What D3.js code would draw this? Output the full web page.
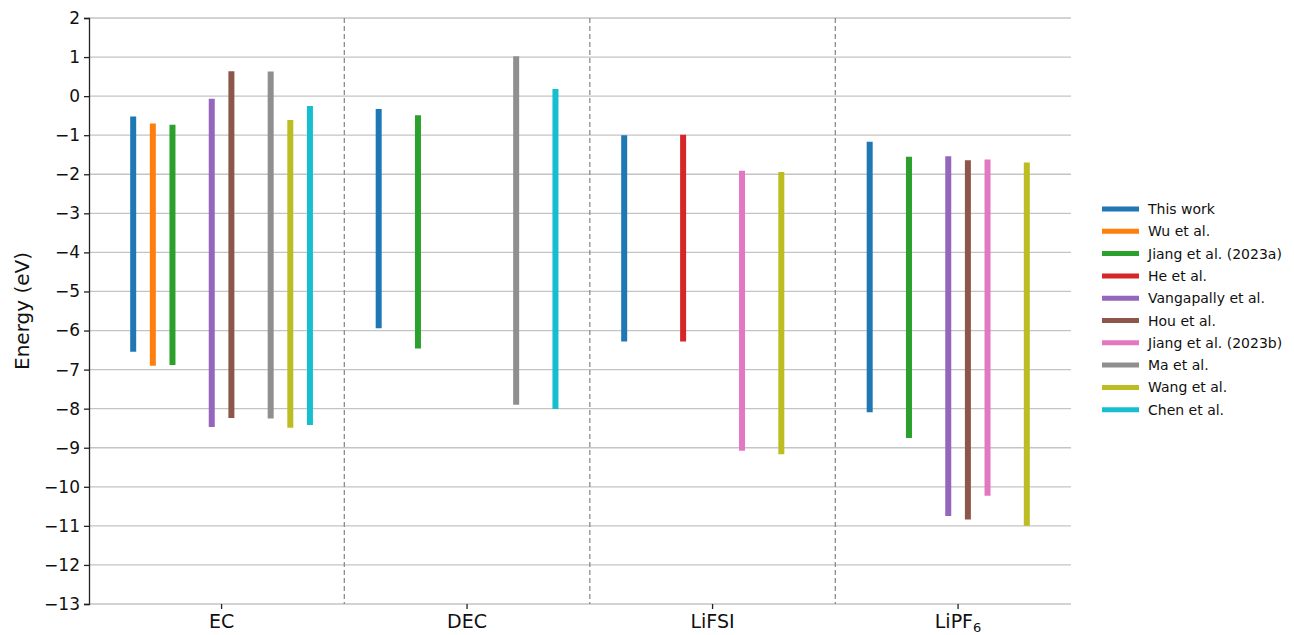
<!DOCTYPE html>
<html><head><meta charset="utf-8">
<script src="https://cdn.jsdelivr.net/npm/d3@7"></script>
<style>body{margin:0;background:#fff;} svg{display:block;font-family:"DejaVu Sans",sans-serif;}</style>
</head><body><svg id="c" width="1294" height="635"></svg>
<script>
const categories = ["EC", "DEC", "LiFSI", "LiPF6"];
const seriesNames = ["This work", "Wu et al.", "Jiang et al. (2023a)", "He et al.", "Vangapally et al.",
  "Hou et al.", "Jiang et al. (2023b)", "Ma et al.", "Wang et al.", "Chen et al."];
const colors = ["#1f77b4", "#ff7f0e", "#2ca02c", "#d62728", "#9467bd", "#8c564b", "#e377c2", "#8f8f8f", "#bcbd22", "#17becf"];
// per-series [EC, DEC, LiFSI, LiPF6] ; null = no data
const highs = [
  [-0.52, -0.33, -1.00, -1.17],
  [-0.70, null, null, null],
  [-0.73, -0.49, null, -1.55],
  [null, null, -0.99, null],
  [-0.07, null, null, -1.54],
  [0.64, null, null, -1.64],
  [null, null, -1.91, -1.62],
  [0.63, 1.02, null, null],
  [-0.61, null, -1.94, -1.70],
  [-0.25, 0.18, null, null]
];
const lows = [
  [-6.54, -5.94, -6.28, -8.09],
  [-6.90, null, null, null],
  [-6.88, -6.46, null, -8.75],
  [null, null, -6.28, null],
  [-8.47, null, null, -10.75],
  [-8.24, null, null, -10.84],
  [null, null, -9.08, -10.23],
  [-8.25, -7.90, null, null],
  [-8.49, null, -9.17, -11.00],
  [-8.42, -8.01, null, null]
];
const yTicks = d3.range(-13, 3, 1);

(function () {
const svg = d3.select("#c");
const pl = 89, pr = 1071, pt = 18, pb = 604;
const x = d3.scaleLinear().domain([-0.54, 3.46]).range([pl, pr]);
const y = d3.scaleLinear().domain([-13, 2]).range([pb, pt]);
const step = 0.08;

// grid
svg.append("g").selectAll("line").data(yTicks).join("line")
  .attr("x1", pl).attr("x2", pr)
  .attr("y1", d => y(d)).attr("y2", d => y(d))
  .attr("stroke", "#c4c4c4").attr("stroke-width", 1.3);

// dividers
svg.append("g").selectAll("line").data([0.5, 1.5, 2.5]).join("line")
  .attr("x1", d => x(d)).attr("x2", d => x(d))
  .attr("y1", pt).attr("y2", pb)
  .attr("stroke", "#8c8c8c").attr("stroke-width", 1.3).attr("stroke-dasharray", "5,3");

// bars
const segs = [];
seriesNames.forEach((s, i) => {
  categories.forEach((c, j) => {
    if (highs[i][j] != null) segs.push({i, j, hi: highs[i][j], lo: lows[i][j]});
  });
});
svg.append("g").selectAll("line").data(segs).join("line")
  .attr("x1", d => x(d.j + (d.i - 4.5) * step)).attr("x2", d => x(d.j + (d.i - 4.5) * step))
  .attr("y1", d => y(d.hi)).attr("y2", d => y(d.lo))
  .attr("stroke", d => colors[d.i]).attr("stroke-width", 6);

// y axis
const ya = svg.append("g").attr("transform", `translate(${pl},0)`)
  .call(d3.axisLeft(y).tickValues(yTicks).tickFormat(d3.format("d")).tickSize(5).tickPadding(4));
ya.select(".domain").attr("stroke", "#222").attr("stroke-width", 1.3);
ya.selectAll(".tick line").attr("stroke", "#222").attr("stroke-width", 1.3);
ya.selectAll("text").attr("font-size", 17).attr("fill", "#111").attr("font-family", "DejaVu Sans");

// x axis ticks
const xa = svg.append("g").attr("transform", `translate(0,${pb})`);
categories.forEach((c, j) => {
  xa.append("line").attr("x1", x(j)).attr("x2", x(j)).attr("y1", 0).attr("y2", 5).attr("stroke", "#222").attr("stroke-width", 1.3);
  const t = xa.append("text").attr("x", x(j)).attr("y", 24).attr("text-anchor", "middle")
    .attr("font-size", 19).attr("fill", "#111");
  if (c === "LiPF6") {
    t.append("tspan").text("LiPF");
    t.append("tspan").text("6").attr("font-size", 13).attr("dy", 4);
  } else t.text(c);
});

// y label
svg.append("text").attr("transform", `translate(29,${(pt + pb) / 2}) rotate(-90)`)
  .attr("text-anchor", "middle").attr("font-size", 20).attr("fill", "#111").text("Energy (eV)");

// legend
const lg = svg.append("g").attr("transform", "translate(1102,209)");
seriesNames.forEach((s, i) => {
  const g = lg.append("g").attr("transform", `translate(0,${i * 22.3})`);
  g.append("line").attr("x1", 0).attr("x2", 37).attr("stroke", colors[i]).attr("stroke-width", 5);
  g.append("text").attr("x", 46).attr("y", 5).attr("font-size", 14).attr("fill", "#111").text(s);
});
})();
</script></body></html>
